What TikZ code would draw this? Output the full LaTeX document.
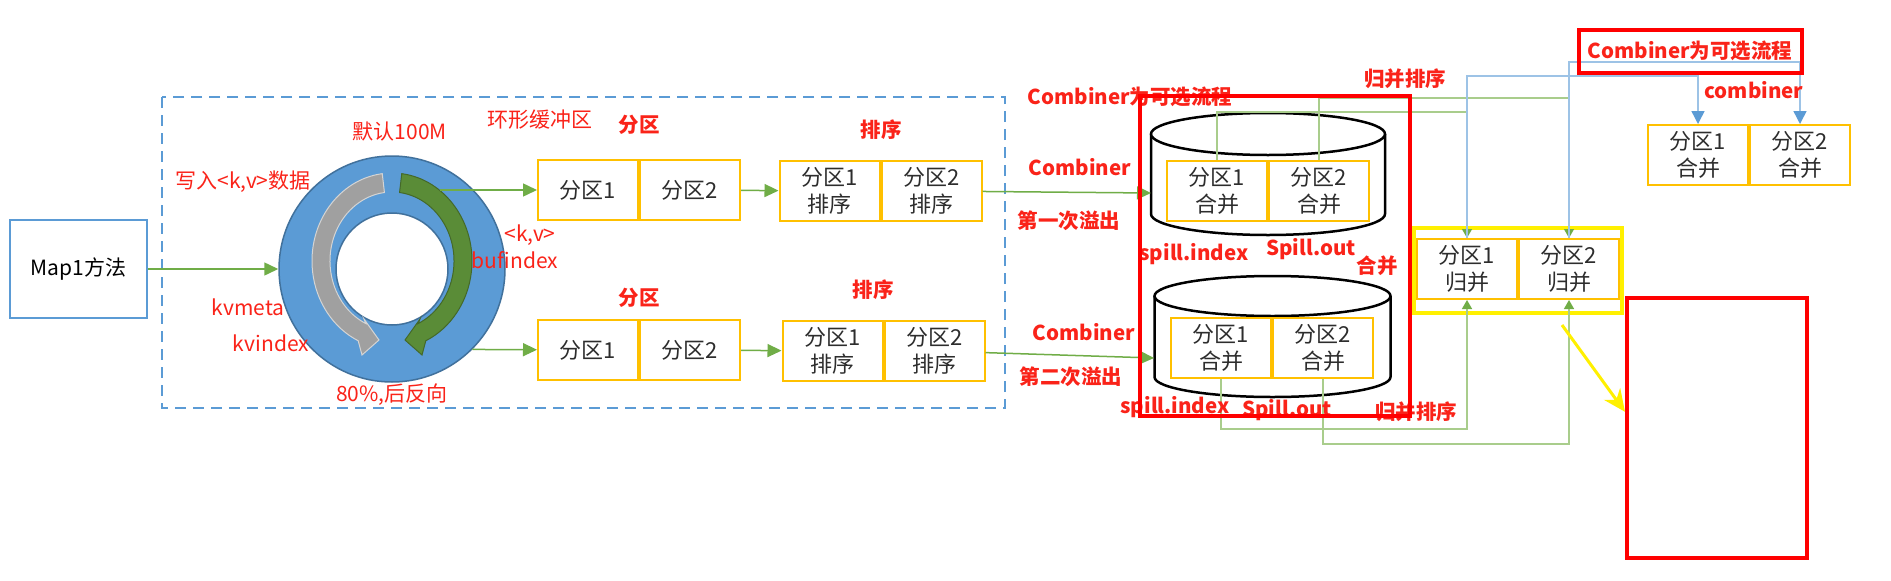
\documentclass[tikz,border=0pt]{standalone}
\usepackage{fontspec}
\setmainfont{Noto Sans CJK SC}
\usepackage{tikz}
\usetikzlibrary{arrows.meta,positioning}

\definecolor{boxorange}{RGB}{255,192,0}
\definecolor{flowgreen}{RGB}{112,173,71}
\definecolor{mergegreen}{RGB}{169,205,140}
\definecolor{ringblue}{RGB}{91,155,213}
\definecolor{ringedge}{RGB}{65,113,156}
\definecolor{lineblue}{RGB}{157,195,230}
\definecolor{labelred}{RGB}{250,35,25}
\definecolor{textgray}{RGB}{45,45,45}
\definecolor{arcgreen}{RGB}{90,140,55}
\definecolor{arcgray}{RGB}{160,160,160}
\definecolor{hiyellow}{RGB}{255,240,0}

\begin{document}
\begin{tikzpicture}[x=1pt,y=-1pt,>={Triangle[length=14pt,width=13pt]},
                    node distance=0pt,semithick]
  \tikzstyle{cell}=[draw=boxorange,line width=2pt,fill=white,text=textgray,
                    minimum width=100,minimum height=60,inner sep=0pt,align=center,
                    font=\fontsize{22}{27}\selectfont]
  \tikzstyle{lab}=[text=labelred,inner sep=0pt,font=\fontsize{21}{24}\selectfont]
  \tikzstyle{blab}=[text=labelred,inner sep=0pt,font=\fontsize{20.5}{24}\selectfont\bfseries]
  \tikzstyle{flow}=[->,draw=flowgreen,line width=1.5pt]
  \tikzstyle{merge}=[-{Triangle[length=9pt,width=10pt,color=flowgreen]},draw=mergegreen,line width=1.3pt]
  \tikzstyle{comb}=[-{Triangle[length=13pt,width=13pt,color=ringblue]},draw=lineblue,line width=1.5pt]
  \tikzstyle{cylline}=[draw=black,line width=2.5pt]
  \tikzstyle{redframe}=[draw=red,line width=4pt]
  \tikzstyle{arcarrow}=[line width=1pt]

  \useasboundingbox[fill=white] (0,0) rectangle (1891,581);

  % map task and ring buffer
  \node[draw=ringblue,line width=2pt,minimum width=137,minimum height=98,
        font=\fontsize{21}{24}\selectfont] (map) at (78.5,269) {Map1方法};
  \draw[ringblue,line width=2pt,dash pattern=on 11pt off 7pt] (162,97) rectangle (1005,408);

  \node[circle,draw=ringedge,fill=ringblue,line width=1.5pt,minimum size=226,inner sep=0pt] (ring) at (392,269) {};
  \node[circle,draw=ringedge,fill=white,line width=1.5pt,minimum size=112,inner sep=0pt] (hole) at (ring.center) {};
  \begin{scope}[shift={(ring.center)},yscale=-1,shift={(0,8)}]
    \filldraw[arcarrow,fill=arcgray,draw=white!55!arcgray]
      (97:80 and 88) arc[start angle=97,end angle=245,x radius=80,y radius=88]
      -- (-30,-94) -- (-13,-79) -- (-28,-58)
      -- (245:62 and 69) arc[start angle=245,end angle=97,x radius=62,y radius=69] -- cycle;
    \filldraw[arcarrow,fill=arcgreen,draw=black!25!arcgreen]
      (83:80 and 88) arc[start angle=83,end angle=-65,x radius=80,y radius=88]
      -- (30,-94) -- (13,-79) -- (28,-58)
      -- (-65:62 and 69) arc[start angle=-65,end angle=83,x radius=62,y radius=69] -- cycle;
  \end{scope}
  \coordinate (kvout) at (440,190);

  % partitions and sorting
  \node[cell] (pa1) at (588,190) {分区1};
  \node[cell,right=of pa1] (pa2) {分区2};
  \node[cell] (sa1) at (829.5,191) {分区1\\排序};
  \node[cell,right=of sa1] (sa2) {分区2\\排序};
  \node[cell] (pb1) at (588,350) {分区1};
  \node[cell,right=of pb1] (pb2) {分区2};
  \node[cell] (sb1) at (832.5,351) {分区1\\排序};
  \node[cell,right=of sb1] (sb2) {分区2\\排序};

  % spill files
  \draw[cylline,fill=white] (1151,134) -- (1151,214) arc[start angle=180,end angle=0,x radius=117,y radius=21] -- (1385,134);
  \draw[cylline,fill=white] (1268,134) ellipse[x radius=117,y radius=21];
  \draw[cylline,fill=white] (1154.5,296) -- (1154.5,377) arc[start angle=180,end angle=0,x radius=118,y radius=20] -- (1390.5,296);
  \draw[cylline,fill=white] (1272.5,296) ellipse[x radius=118,y radius=20];
  \coordinate (spillA) at (1151,193);
  \coordinate (spillB) at (1154,358);

  \node[cell] (ca1) at (1217,191) {分区1\\合并};
  \node[cell,right=of ca1] (ca2) {分区2\\合并};
  \node[cell] (cb1) at (1221,348) {分区1\\合并};
  \node[cell,right=of cb1] (cb2) {分区2\\合并};

  % merge and combine
  \node[cell] (ma1) at (1467,269) {分区1\\归并};
  \node[cell,right=of ma1] (ma2) {分区2\\归并};
  \node[cell] (ra1) at (1698,155) {分区1\\合并};
  \node[cell,right=of ra1] (ra2) {分区2\\合并};
  \draw[hiyellow,line width=3.5pt] (1414,228) rectangle (1622,313);
  \node[redframe,minimum width=180,minimum height=260,inner sep=0pt] (blank) at (1717,428) {};
  \coordinate (ptr) at (1562,325);

  \draw[flow] (map) -- (ring);
  \draw[flow] (kvout) -- (pa1);
  \draw[flow] (ring.-45) -- (pb1);
  \draw[flow] (pa2) -- (sa1);
  \draw[flow] (pb2) -- (sb1);
  \draw[flow] (sa2) -- (spillA);
  \draw[flow] (sb2) -- (spillB);

  \draw[merge] (ca1.north) -- ++(0,-48) -| (ma1.north);
  \draw[merge] (ca2.north) -- ++(0,-62) -| (ma2.north);
  \draw[merge] (cb1.south) -- ++(0,50) -| (ma1.south);
  \draw[merge] (cb2.south) -- ++(0,65) -| (ma2.south);
  \draw[comb] (ma1.north) -- ++(0,-162) -| (ra1.north);
  \draw[comb] (ma2.north) -- ++(0,-176) -| (ra2.north);
  \draw[hiyellow,line width=3pt,-{Stealth[length=22pt,width=20pt]}] (ptr) -- (blank.170);

  % labels
  \node[lab] (dflt) at (400,132) {默认100M};
  \node[lab] (write) at (243,182) {写入<k,v>数据};
  \node[lab] (kvmeta) at (248,307) {kvmeta};
  \node[lab] (kvindex) at (271,343) {kvindex};
  \node[lab] (reverse) at (392,395) {80\%,后反向};
  \node[lab] (ringname) at (540,120) {环形缓冲区};
  \node[lab] (kv) at (530,235) {<k,v>};
  \node[lab] (bufindex) at (515,260) {bufindex};
  \node[blab] (partA) at (639,125) {分区};
  \node[blab] (sortA) at (881,130) {排序};
  \node[blab] (partB) at (639,298) {分区};
  \node[blab] (sortB) at (873,290) {排序};
  \node[blab] (optA) at (1130,97) {Combiner为可选流程};
  \node[blab] (combA) at (1080,167) {Combiner};
  \node[blab] (firstspill) at (1069,221) {第一次溢出};
  \node[blab] (combB) at (1084,332) {Combiner};
  \node[blab] (secondspill) at (1071,377) {第二次溢出};
  \node[blab] (idxA) at (1194,254) {spill.index};
  \node[blab] (outA) at (1311,249) {Spill.out};
  \node[blab] (mergeA) at (1377,266) {合并};
  \node[blab] (idxB) at (1175,407) {spill.index};
  \node[blab] (outB) at (1287,410) {Spill.out};
  \node[blab] (msortA) at (1405,79) {归并排序};
  \node[blab] (msortB) at (1416,412) {归并排序};
  \node[blab] (combC) at (1754,90) {combiner};
  \node[blab,redframe,minimum width=223,minimum height=43] (optB) at (1690,51) {Combiner为可选流程};

  \draw[redframe] (1140,96) rectangle (1410,416);
%  \node[blab] at (1130,60) {Combiner};
\end{tikzpicture}
\end{document}
